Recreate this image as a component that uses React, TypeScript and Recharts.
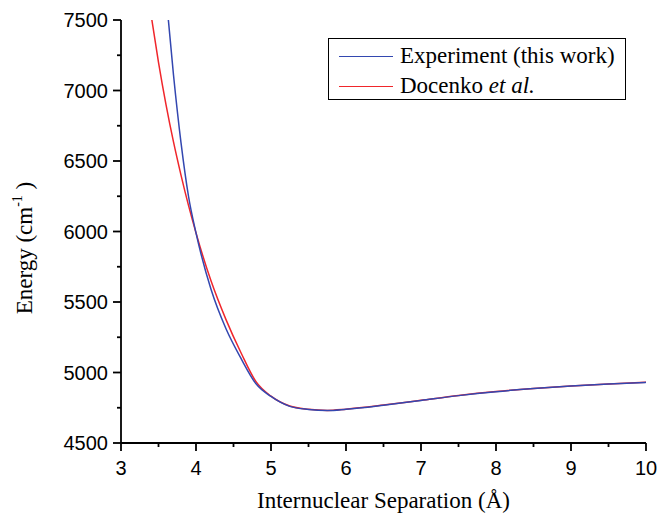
import { LineChart, Line, XAxis, YAxis, Legend } from "recharts";

// Internuclear separation (Å) and energy (cm^-1)
const experimentR = [3.6, 3.7, 3.8, 3.9, 4.0, 4.2, 4.4, 4.6, 4.8, 5.0, 5.25, 5.5, 5.75, 6.0, 6.5, 7.0, 7.5, 8.0, 8.5, 9.0, 9.5, 10];
const experimentE = [7680, 7110, 6630, 6250, 5990, 5590, 5310, 5100, 4920, 4830, 4760, 4738, 4730, 4739, 4768, 4802, 4836, 4864, 4886, 4904, 4918, 4930];

const docenkoR = [3.4, 3.5, 3.6, 3.7, 3.8, 3.9, 4.0, 4.2, 4.4, 4.6, 4.8, 5.0, 5.25, 5.5, 5.75, 6.0, 6.5, 7.0, 7.5, 8.0, 8.5, 9.0, 9.5, 10];
const docenkoE = [7540, 7200, 6900, 6635, 6400, 6185, 5990, 5650, 5375, 5140, 4935, 4832, 4762, 4739, 4731, 4740, 4769, 4803, 4837, 4865, 4887, 4905, 4919, 4931];

const xTicks = [3, 3.5, 4, 4.5, 5, 5.5, 6, 6.5, 7, 7.5, 8, 8.5, 9, 9.5, 10];
const yTicks = [4500, 4750, 5000, 5250, 5500, 5750, 6000, 6250, 6500, 6750, 7000, 7250, 7500];

const experiment = experimentR.map((r, i) => ({ r, e: experimentE[i] }));
const docenko = docenkoR.map((r, i) => ({ r, e: docenkoE[i] }));

const BLUE = "#3347b0";
const RED = "#f0262b";
const sans = "Liberation Sans, Arial, sans-serif";
const serif = "Liberation Serif, Times New Roman, Times, DejaVu Serif, serif";

const XTick = (props: any) => {
  const { x, y, payload } = props;
  const major = Number.isInteger(payload.value);
  return (
    <g>
      <line x1={x} y1={y} x2={x} y2={y + (major ? 8 : 4)} stroke="#000" strokeWidth={1.8} />
      {major && (
        <text x={x} y={y + 32} textAnchor="middle" fontSize={20} fontFamily={sans} fill="#000">
          {payload.value}
        </text>
      )}
    </g>
  );
};

const YTick = (props: any) => {
  const { x, y, payload } = props;
  const major = payload.value % 500 === 0;
  return (
    <g>
      <line x1={x} y1={y} x2={x - (major ? 8 : 4)} y2={y} stroke="#000" strokeWidth={1.8} />
      {major && (
        <text x={x - 13} y={y + 7} textAnchor="end" fontSize={20} fontFamily={sans} fill="#000">
          {payload.value}
        </text>
      )}
    </g>
  );
};

const YLabel = () => (
  <text
    transform="translate(32, 248) rotate(-90)"
    textAnchor="middle"
    fontSize={23}
    fontFamily={serif}
    fill="#000"
  >
    Energy (cm
    <tspan fontSize={14} dy={-10}>-1</tspan>
    <tspan dy={10}> )</tspan>
  </text>
);

const LegendBox = () => (
  <div
    style={{
      width: 298,
      height: 62,
      border: "1.5px solid #000",
      boxSizing: "border-box",
      background: "#fff",
      position: "relative",
      fontFamily: serif,
      fontSize: 23,
      color: "#000",
    }}
  >
    <div style={{ position: "absolute", left: 10, top: 17, width: 54, borderTop: `1.5px solid ${BLUE}` }} />
    <div style={{ position: "absolute", left: 71, top: 3, lineHeight: "28px", whiteSpace: "nowrap" }}>
      Experiment (this work)
    </div>
    <div style={{ position: "absolute", left: 10, top: 47, width: 54, borderTop: `1.5px solid ${RED}` }} />
    <div style={{ position: "absolute", left: 71, top: 33, lineHeight: "28px", whiteSpace: "nowrap" }}>
      Docenko <i>et al.</i>
    </div>
  </div>
);

export default function App() {
  return (
    <div style={{ position: "absolute", left: 0, top: 0, background: "#fff" }}>
      <LineChart width={659} height={514} margin={{ top: 20, right: 13, bottom: 0, left: 0 }}>
        <XAxis
          dataKey="r"
          type="number"
          domain={[3, 10]}
          ticks={xTicks}
          interval={0}
          allowDataOverflow
          height={71}
          tickLine={false}
          tickSize={0}
          tickMargin={0}
          tick={<XTick />}
          axisLine={{ stroke: "#000", strokeWidth: 1.8 }}
          label={{
            value: "Internuclear Separation (Å)",
            position: "insideBottom",
            offset: 6,
            fontSize: 23,
            fontFamily: serif,
            fill: "#000",
          }}
        />
        <YAxis
          dataKey="e"
          type="number"
          domain={[4500, 7500]}
          ticks={yTicks}
          interval={0}
          allowDataOverflow
          width={121}
          tickLine={false}
          tickSize={0}
          tickMargin={0}
          tick={<YTick />}
          axisLine={{ stroke: "#000", strokeWidth: 1.8 }}
          label={<YLabel />}
        />
        <Legend
          layout="horizontal"
          verticalAlign="middle"
          align="center"
          content={<LegendBox />}
          wrapperStyle={{ position: "absolute", left: 328, top: 38, width: 298, height: 62 }}
        />
        <Line
          data={docenko}
          dataKey="e"
          name="Docenko et al."
          type="monotone"
          stroke={RED}
          strokeWidth={1.5}
          dot={false}
          isAnimationActive={false}
        />
        <Line
          data={experiment}
          dataKey="e"
          name="Experiment (this work)"
          type="monotone"
          stroke={BLUE}
          strokeWidth={1.5}
          dot={false}
          isAnimationActive={false}
        />
      </LineChart>
    </div>
  );
}
